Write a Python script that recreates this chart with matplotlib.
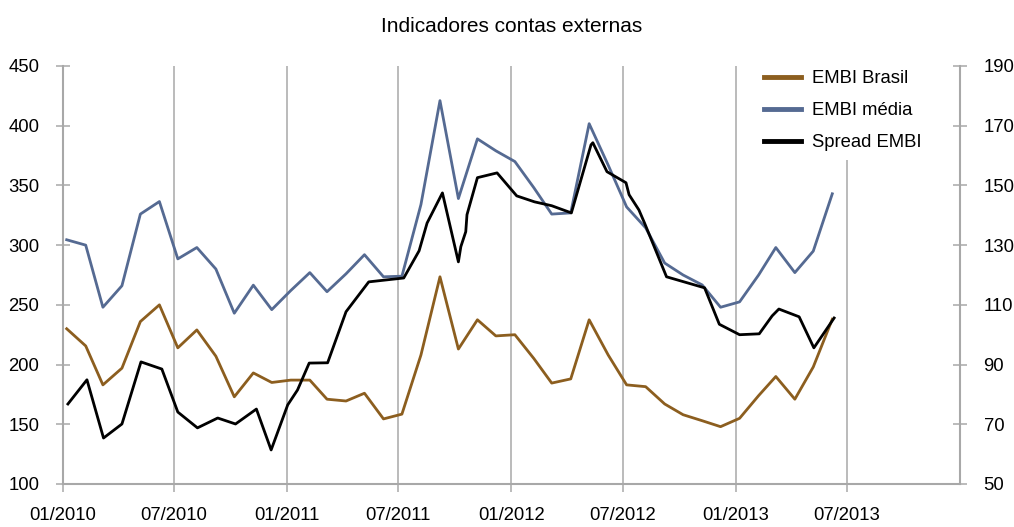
import numpy as np
import pandas as pd
import matplotlib
matplotlib.use("Agg")
import matplotlib.pyplot as plt

plt.rcParams['font.family'] = ['Liberation Sans', 'DejaVu Sans']

# --- data ---
# monthly series, plotted in the first week of each month
months = pd.date_range('2010-01-01', periods=42, freq='MS') + pd.Timedelta(days=6)

embi_brasil = [230, 215.6, 183, 197, 236, 250, 214, 229, 207, 173, 193, 185,
               187, 187, 171, 169.5, 176, 154.5, 158.5, 208, 273.5, 213, 237.5, 224,
               225, 205, 184.5, 188, 237.5, 208, 183, 181.5, 167, 158, 153, 148,
               155, 174, 190, 171, 198, 238]

embi_media = [304.5, 300, 248, 266, 326, 336.5, 288.5, 298, 280, 243, 266.5, 246,
              262, 277, 261, 276, 292, 273.5, 274, 334, 421, 339, 389, 379,
              370, 348, 326, 327, 401.7, 367, 332, 314.5, 285, 275, 266.7, 248,
              252.5, 275, 298, 277, 295, 343]

# spread series has its own (irregular) dates, right axis
spread_dates = pd.to_datetime([
    '2010-01-09', '2010-02-09', '2010-03-08', '2010-04-07', '2010-05-08',
    '2010-06-11', '2010-07-07', '2010-08-08', '2010-09-10', '2010-10-09',
    '2010-11-12', '2010-12-06', '2011-01-02', '2011-01-18', '2011-02-06',
    '2011-03-08', '2011-04-07', '2011-05-14', '2011-07-10', '2011-08-04',
    '2011-08-17', '2011-09-11', '2011-10-07', '2011-10-11', '2011-10-19',
    '2011-10-21', '2011-11-07', '2011-12-09', '2012-01-10', '2012-02-08',
    '2012-03-07', '2012-04-08', '2012-05-10', '2012-05-13', '2012-06-05',
    '2012-07-06', '2012-07-11', '2012-07-27', '2012-08-05', '2012-09-10',
    '2012-11-11', '2012-12-05', '2013-01-07', '2013-02-08', '2013-03-01',
    '2013-03-12', '2013-04-14', '2013-05-08', '2013-06-10'])
spread_embi = [76.8, 84.9, 65.4, 70.1, 90.9,
               88.5, 74.1, 68.8, 72.1, 70.1,
               75.1, 61.4, 76.5, 81.5, 90.5,
               90.6, 107.7, 117.7, 119, 128.1,
               137.4, 147.5, 124.4, 129.5, 134.5,
               140.2, 152.6, 154.2, 146.5, 144.5,
               143.2, 140.8, 163.6, 164.3, 154.6,
               150.9, 146.9, 141.8, 137.5, 119.4,
               115.7, 103.5, 100, 100.3, 106.3,
               108.6, 106, 95.6, 105.6]

left_ticks = list(range(100, 451, 50))
right_ticks = list(range(50, 191, 20))
xtick_dates = pd.date_range('2010-01-01', '2013-07-01', freq='6MS')

brown = '#8c5e1f'
blue = '#556a92'
grid_c = '#a8a8a8'
fs = 13.3

fig = plt.figure(figsize=(10.14, 5.27), dpi=100)
ax = fig.add_axes([63 / 1014, 1 - 484 / 527, 897 / 1014, 418 / 527])
ax2 = ax.twinx()

l1, = ax.plot(months, embi_brasil, color=brown, lw=2, label='EMBI Brasil')
l2, = ax.plot(months, embi_media, color=blue, lw=2, label='EMBI média')
l3, = ax2.plot(spread_dates, spread_embi, color='black', lw=2, label='Spread EMBI')

ax.set_xlim(pd.Timestamp('2010-01-01'), pd.Timestamp('2014-01-01'))
ax.set_ylim(100, 450)
ax2.set_ylim(50, 190)
ax.set_yticks(left_ticks)
ax2.set_yticks(right_ticks)
ax.set_xticks(xtick_dates)
ax.set_xticklabels([d.strftime('%m/%Y') for d in xtick_dates])

ax.grid(axis='x', color=grid_c, lw=1.1)
ax.grid(axis='y', visible=False)

for a in (ax, ax2):
    a.spines['top'].set_visible(False)
    for s in a.spines.values():
        s.set_color(grid_c)
        s.set_linewidth(1.5)
ax.spines['right'].set_visible(False)
ax2.spines['left'].set_visible(False)
ax2.spines['bottom'].set_visible(False)

ax.tick_params(axis='y', direction='inout', length=10, width=1.1, color=grid_c,
               pad=12, labelsize=fs)
ax.tick_params(axis='x', direction='out', length=6, width=1.1, color=grid_c,
               pad=10.5, labelsize=fs)
ax2.tick_params(axis='y', direction='inout', length=10, width=1.1, color=grid_c,
                pad=12, labelsize=fs)

fig.text(511.5 / 1014, 1 - 27 / 527, 'Indicadores contas externas',
         ha='center', va='center', fontsize=15)

leg = ax2.legend([l1, l2, l3], ['EMBI Brasil', 'EMBI média', 'Spread EMBI'],
                 loc='upper left', bbox_to_anchor=(746 / 1014, 1 - 52 / 527),
                 bbox_transform=fig.transFigure, fontsize=fs, frameon=True,
                 facecolor='white', edgecolor='none', framealpha=1, fancybox=False,
                 handlelength=2.0, handletextpad=0.55, labelspacing=0.8,
                 borderpad=0.5)
for ln in leg.get_lines():
    ln.set_linewidth(3.5)

fig.savefig('out.png', dpi=100)
